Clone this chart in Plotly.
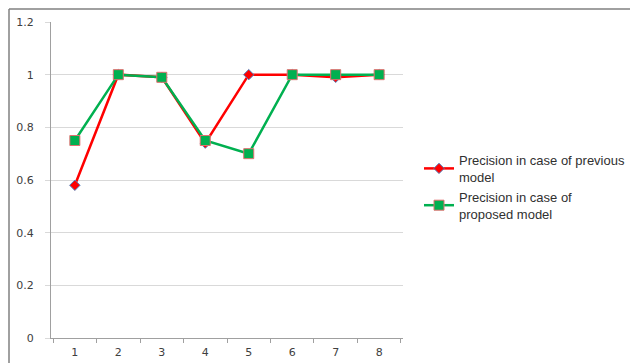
import plotly.graph_objects as go

categories = ["1", "2", "3", "4", "5", "6", "7", "8"]
previous_model = [0.58, 1.0, 0.99, 0.74, 1.0, 1.0, 0.99, 1.0]
proposed_model = [0.75, 1.0, 0.99, 0.75, 0.70, 1.0, 1.0, 1.0]
y_ticks = [0, 0.2, 0.4, 0.6, 0.8, 1.0, 1.2]
y_labels = ["0", "0.2", "0.4", "0.6", "0.8", "1", "1.2"]

W, H = 630, 363
L, R, T, B = 51, 227, 22, 25
pw, ph = W - L - R, H - T - B

def px_x(x):
    return (x - L) / pw

def px_y(y):
    return (H - B - y) / ph

fig = go.Figure()
fig.add_trace(go.Scatter(
    x=categories, y=previous_model, mode="lines+markers",
    name="Precision in case of previous<br>model",
    line=dict(color="#ff0000", width=2.5),
    marker=dict(symbol="diamond", size=8, color="#ff0000",
                line=dict(color="#4f81bd", width=1)),
))
fig.add_trace(go.Scatter(
    x=categories, y=proposed_model, mode="lines+markers",
    name="Precision in case of<br>proposed model",
    line=dict(color="#00b050", width=2.5),
    marker=dict(symbol="square", size=10, color="#00b050",
                line=dict(color="#e07070", width=1)),
))

font = "Liberation Sans, Arial, sans-serif"
tick_font = dict(family="DejaVu Sans, sans-serif", size=11, color="#404040")
fig.update_layout(
    width=W, height=H,
    margin=dict(l=L, r=R, t=T, b=B, pad=0, autoexpand=False),
    paper_bgcolor="white", plot_bgcolor="white",
    font=dict(family=font, size=11, color="#404040"),
    showlegend=True,
    legend=dict(x=px_x(419), y=px_y(187), xanchor="left", yanchor="middle",
                font=dict(family=font, size=13, color="#303030"),
                bgcolor="rgba(0,0,0,0)", tracegroupgap=4,
                itemwidth=30),
    xaxis=dict(type="category", showgrid=False, showline=True,
               linecolor="#a0a0a0", linewidth=1, ticks="outside",
               tickson="boundaries", ticklen=4, tickcolor="#a0a0a0",
               ticklabelstandoff=4,
               tickfont=tick_font, zeroline=False),
    yaxis=dict(range=[0, 1.2], tickvals=y_ticks, ticktext=y_labels,
               showgrid=True, gridcolor="#d9d9d9", gridwidth=1,
               showline=True, linecolor="#a0a0a0", linewidth=1,
               ticks="outside", ticklen=5, tickcolor="#d9d9d9",
               ticklabelstandoff=9,
               tickfont=tick_font, zeroline=False),
    shapes=[
        dict(type="line", xref="paper", yref="paper",
             x0=px_x(9), x1=px_x(9), y0=px_y(363), y1=px_y(9),
             line=dict(color="#808080", width=1.5)),
        dict(type="line", xref="paper", yref="paper",
             x0=px_x(9), x1=px_x(630), y0=px_y(9), y1=px_y(9),
             line=dict(color="#808080", width=1.5)),
    ],
)

fig.write_html("out.html")
